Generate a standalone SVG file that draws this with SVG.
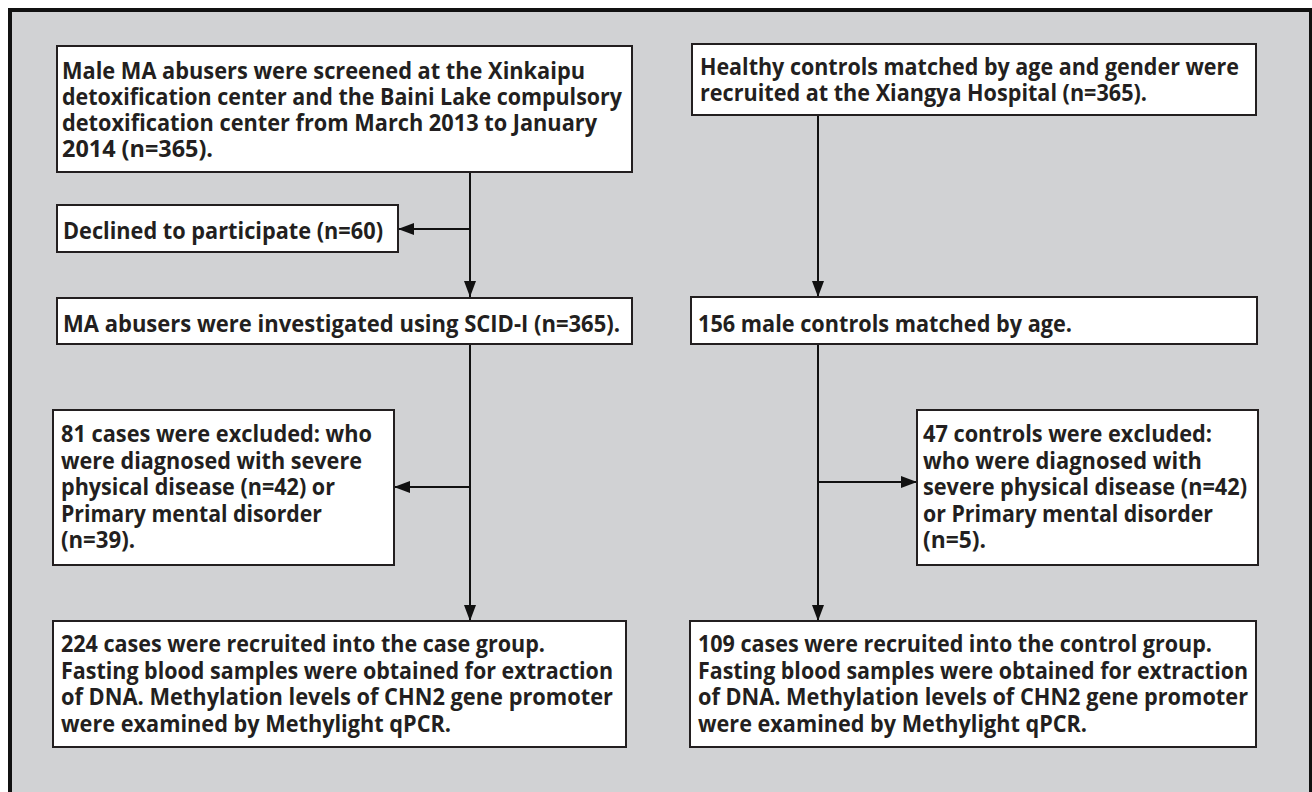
<svg xmlns="http://www.w3.org/2000/svg" width="1312" height="792" viewBox="0 0 1312 792">
<style>
.box{fill:#ffffff;stroke:#231f20;stroke-width:2}
.t{font-family:"Open Sans",Lato,"Liberation Sans",sans-serif;font-weight:700;font-size:23px;fill:#231f20}
.c{stroke:#111111;stroke-width:2;fill:none}
</style>
<defs>
<marker id="ah" markerUnits="userSpaceOnUse" markerWidth="16" markerHeight="12" refX="16" refY="6" orient="auto">
<path d="M0,0 L16,6 L0,12 z" fill="#111111"/>
</marker>
</defs>
<rect x="0" y="0" width="1312" height="792" fill="#ffffff"/>
<rect x="10" y="10" width="1301" height="800" fill="#d1d2d4" stroke="#111111" stroke-width="4"/>

<g id="connectors">
<line class="c" x1="470" y1="172" x2="470" y2="297" marker-end="url(#ah)"/>
<line class="c" x1="470" y1="229" x2="398" y2="229" marker-end="url(#ah)"/>
<line class="c" x1="470" y1="344" x2="470" y2="621" marker-end="url(#ah)"/>
<line class="c" x1="470" y1="487" x2="394" y2="487" marker-end="url(#ah)"/>
<line class="c" x1="818" y1="115" x2="818" y2="297" marker-end="url(#ah)"/>
<line class="c" x1="818" y1="344" x2="818" y2="621" marker-end="url(#ah)"/>
<line class="c" x1="818" y1="482" x2="917" y2="482" marker-end="url(#ah)"/>
</g>

<g id="nodeA">
<rect class="box" x="57" y="46" width="575" height="126"/>
<text class="t" x="62" y="79" textLength="523" lengthAdjust="spacingAndGlyphs">Male MA abusers were screened at the Xinkaipu</text>
<text class="t" x="62" y="105" textLength="560" lengthAdjust="spacingAndGlyphs">detoxification center and the Baini Lake compulsory</text>
<text class="t" x="62" y="131" textLength="535" lengthAdjust="spacingAndGlyphs">detoxification center from March 2013 to January</text>
<text class="t" x="62" y="157" textLength="151" lengthAdjust="spacingAndGlyphs">2014 (n=365).</text>
</g>

<g id="nodeB">
<rect class="box" x="692" y="44" width="564" height="71"/>
<text class="t" x="700" y="75" textLength="539" lengthAdjust="spacingAndGlyphs">Healthy controls matched by age and gender were</text>
<text class="t" x="700" y="101" textLength="447" lengthAdjust="spacingAndGlyphs">recruited at the Xiangya Hospital (n=365).</text>
</g>

<g id="nodeC">
<rect class="box" x="57" y="205" width="341" height="47"/>
<text class="t" x="63" y="239" textLength="320" lengthAdjust="spacingAndGlyphs">Declined to participate (n=60)</text>
</g>

<g id="nodeD">
<rect class="box" x="57" y="298" width="575" height="46"/>
<text class="t" x="63" y="332" textLength="557" lengthAdjust="spacingAndGlyphs">MA abusers were investigated using SCID-I (n=365).</text>
</g>

<g id="nodeE">
<rect class="box" x="691" y="297" width="566" height="47"/>
<text class="t" x="698" y="332" textLength="374" lengthAdjust="spacingAndGlyphs">156 male controls matched by age.</text>
</g>

<g id="nodeF">
<rect class="box" x="53" y="410" width="341" height="155"/>
<text class="t" x="61" y="442" textLength="311" lengthAdjust="spacingAndGlyphs">81 cases were excluded: who</text>
<text class="t" x="61" y="468.5" textLength="301" lengthAdjust="spacingAndGlyphs">were diagnosed with severe</text>
<text class="t" x="61" y="495" textLength="274" lengthAdjust="spacingAndGlyphs">physical disease (n=42) or</text>
<text class="t" x="61" y="521.5" textLength="261" lengthAdjust="spacingAndGlyphs">Primary mental disorder</text>
<text class="t" x="61" y="548" textLength="74" lengthAdjust="spacingAndGlyphs">(n=39).</text>
</g>

<g id="nodeG">
<rect class="box" x="917" y="410" width="341" height="155"/>
<text class="t" x="923" y="442" textLength="289" lengthAdjust="spacingAndGlyphs">47 controls were excluded:</text>
<text class="t" x="923" y="468.5" textLength="279" lengthAdjust="spacingAndGlyphs">who were diagnosed with</text>
<text class="t" x="923" y="495" textLength="324" lengthAdjust="spacingAndGlyphs">severe physical disease (n=42)</text>
<text class="t" x="923" y="521.5" textLength="290" lengthAdjust="spacingAndGlyphs">or Primary mental disorder</text>
<text class="t" x="923" y="548" textLength="63" lengthAdjust="spacingAndGlyphs">(n=5).</text>
</g>

<g id="nodeH">
<rect class="box" x="53" y="621" width="573" height="126"/>
<text class="t" x="61" y="652" textLength="484" lengthAdjust="spacingAndGlyphs">224 cases were recruited into the case group.</text>
<text class="t" x="61" y="678.5" textLength="552" lengthAdjust="spacingAndGlyphs">Fasting blood samples were obtained for extraction</text>
<text class="t" x="61" y="705" textLength="552" lengthAdjust="spacingAndGlyphs">of DNA. Methylation levels of CHN2 gene promoter</text>
<text class="t" x="61" y="731.5" textLength="390" lengthAdjust="spacingAndGlyphs">were examined by Methylight qPCR.</text>
</g>

<g id="nodeI">
<rect class="box" x="690" y="621" width="566" height="126"/>
<text class="t" x="698" y="652" textLength="514" lengthAdjust="spacingAndGlyphs">109 cases were recruited into the control group.</text>
<text class="t" x="698" y="678.5" textLength="550" lengthAdjust="spacingAndGlyphs">Fasting blood samples were obtained for extraction</text>
<text class="t" x="698" y="705" textLength="550" lengthAdjust="spacingAndGlyphs">of DNA. Methylation levels of CHN2 gene promoter</text>
<text class="t" x="698" y="731.5" textLength="389" lengthAdjust="spacingAndGlyphs">were examined by Methylight qPCR.</text>
</g>
</svg>
